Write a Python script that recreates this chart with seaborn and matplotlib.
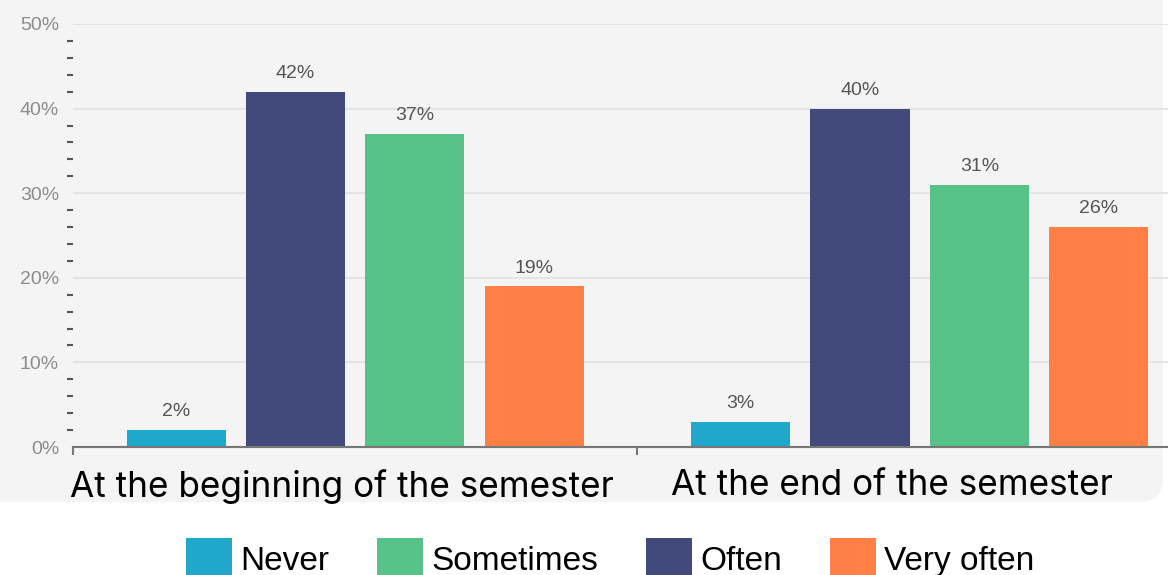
import matplotlib
matplotlib.use("Agg")
import matplotlib.pyplot as plt
import seaborn as sns
import pandas as pd
from matplotlib.patches import FancyBboxPatch, Patch
from matplotlib.transforms import IdentityTransform, ScaledTranslation
from matplotlib.ticker import FixedLocator

# Survey data: share of students per answer, by point in the semester
periods = ["At the beginning of the semester", "At the end of the semester"]
responses = ["Never", "Often", "Sometimes", "Very often"]
never = [2, 3]
often = [42, 40]
sometimes = [37, 31]
very_often = [19, 26]
legend_order = ["Never", "Sometimes", "Often", "Very often"]
y_ticks = [0, 10, 20, 30, 40, 50]

colors = {"Never": "#1fa8cc", "Often": "#414a7a",
          "Sometimes": "#57c287", "Very often": "#ff7f45"}

df = pd.DataFrame({
    "period": periods * len(responses),
    "response": [r for r in responses for _ in periods],
    "share": never + often + sometimes + very_often,
})

W, H = 1168, 575
fig = plt.figure(figsize=(W / 100, H / 100), dpi=100)
fig.patch.set_facecolor("white")

# light grey card behind the chart, rounded bottom-right corner
panel = FancyBboxPatch((-40, 73), W - 5 + 40, 560,
                       boxstyle="round,pad=0,rounding_size=24",
                       transform=IdentityTransform(), fc="#f4f4f4",
                       ec="none", zorder=-1)
fig.patches.append(panel)

ax = fig.add_axes([73 / W, (H - 447) / H, (W - 73) / W, (447 - 24) / H])
ax.set_facecolor("none")

sns.barplot(data=df, x="period", y="share", hue="response",
            order=periods, hue_order=responses, palette=colors,
            saturation=1, width=0.846, gap=0.17, legend=False, ax=ax,
            errorbar=None)

for cont in ax.containers:
    ax.bar_label(cont, labels=[f"{v:.0f}%" for v in cont.datavalues],
                 padding=7, fontsize=14, color="#555555",
                 family="Liberation Sans")

ax.set_xlim(-0.5, 1.44)
ax.set_ylim(0, 50)

for side in ("top", "right", "left"):
    ax.spines[side].set_visible(False)
ax.spines["bottom"].set_color("#777777")
ax.spines["bottom"].set_linewidth(1.5)

# y axis: percent labels, short minor dashes every 2%
ax.set_yticks(y_ticks)
ax.set_yticklabels([f"{v}%" for v in y_ticks], family="Liberation Sans")
ax.yaxis.set_minor_locator(FixedLocator([v for v in range(2, 50, 2) if v % 10]))
ax.tick_params(axis="y", which="major", length=0, pad=10,
               labelsize=14, labelcolor="#8c8c8c")
ax.tick_params(axis="y", which="minor", length=4.5, width=1.5,
               color="#555555", direction="out")
ax.yaxis.grid(True, which="major", color="#e4e4e4", lw=1.5)
ax.set_axisbelow(True)

# x axis: category names, separator ticks between groups
ax.set_xticks(range(len(periods)))
ax.set_xticklabels(periods, family="Inter", fontsize=25.3, color="black")
ax.set_xticks([-0.5, 0.5], minor=True)
ax.tick_params(axis="x", which="major", length=0, pad=16)
ax.tick_params(axis="x", which="minor", length=6, width=1.5, color="#777777")
ax.set_xlabel("")
ax.set_ylabel("")
for lbl, dx in zip(ax.get_xticklabels(), [-13, -28]):
    lbl.set_transform(lbl.get_transform()
                      + ScaledTranslation(dx / 100, 0, fig.dpi_scale_trans))

handles = [Patch(facecolor=colors[r], edgecolor="none") for r in legend_order]
fig.legend(handles=handles, labels=legend_order, loc="center",
           bbox_to_anchor=(610 / W, 1 - 559 / H), ncol=4, frameon=False,
           prop={"family": "Liberation Sans", "size": 24},
           handlelength=1.38, handleheight=1.6, handletextpad=0.24,
           columnspacing=1.44, borderpad=0, borderaxespad=0)

fig.savefig("out.png", dpi=100, facecolor="white")
